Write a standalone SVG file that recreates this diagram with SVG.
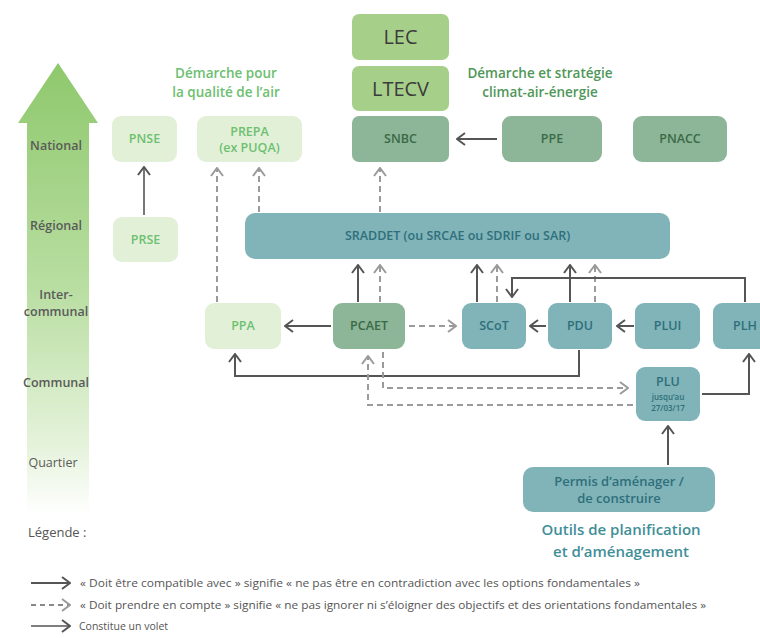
<svg xmlns="http://www.w3.org/2000/svg" width="760" height="638" viewBox="0 0 760 638">
<style>
  text { font-family: "Open Sans", "Noto Sans", "Liberation Sans", sans-serif; }
  .lg rect { fill: #e3f0d8; }
  .lg text { fill: #6cc070; font-size: 12.5px; font-weight: 600; text-anchor: middle; }
  .mg rect { fill: #a6d08a; }
  .mg text { fill: #3c3c3c; font-size: 20px; text-anchor: middle; }
  .gg rect { fill: #8db597; }
  .gg text { fill: #3a6a47; font-size: 12.5px; font-weight: 600; text-anchor: middle; }
  .tl rect { fill: #80b4b8; }
  .tl text { fill: #2f6f7b; font-size: 12.5px; font-weight: 600; text-anchor: middle; }
  .ax { fill: #5a5a5a; font-size: 12.5px; font-weight: 600; text-anchor: middle; }
  .hd { font-size: 13.5px; font-weight: 600; text-anchor: middle; }
  .solid { fill: none; stroke: #555; stroke-width: 2; marker-end: url(#as); }
  .dash { fill: none; stroke: #9a9a9a; stroke-width: 2; stroke-dasharray: 6 4; marker-end: url(#ad); }
  .leg { fill: #555; font-size: 10px; }
</style>
<defs>
  <linearGradient id="axg" x1="0" y1="0" x2="0" y2="1">
    <stop offset="0" stop-color="#8ec86c"/>
    <stop offset="0.5" stop-color="#b9dea2"/>
    <stop offset="0.85" stop-color="#e6f3dc"/>
    <stop offset="1" stop-color="#ffffff"/>
  </linearGradient>
  <marker id="as" viewBox="0 0 10 14" refX="9" refY="7" markerWidth="10" markerHeight="14" markerUnits="userSpaceOnUse" orient="auto">
    <path d="M1,1 L9,7 L1,13" fill="none" stroke="#555" stroke-width="2"/>
  </marker>
  <marker id="ad" viewBox="0 0 10 14" refX="9" refY="7" markerWidth="10" markerHeight="14" markerUnits="userSpaceOnUse" orient="auto">
    <path d="M1,1 L9,7 L1,13" fill="none" stroke="#9a9a9a" stroke-width="2"/>
  </marker>
</defs>
<rect width="760" height="638" fill="#ffffff"/>

<!-- axis -->
<g id="axis">
  <path d="M58,63 L98,123 L89,123 L89,515 L27,515 L27,123 L18,123 Z" fill="url(#axg)"/>
  <text class="ax" x="56" y="150">National</text>
  <text class="ax" x="56" y="230">Régional</text>
  <text class="ax" x="56" y="299">Inter-</text>
  <text class="ax" x="56" y="316">communal</text>
  <text class="ax" x="56" y="387">Communal</text>
  <text class="ax" x="53" y="467" style="font-weight:500">Quartier</text>
</g>

<!-- headings -->
<text class="hd" x="226" y="78" fill="#6cc070">Démarche pour</text>
<text class="hd" x="226" y="97" fill="#6cc070">la qualité de l’air</text>
<text class="hd" x="540" y="78" fill="#4f9658">Démarche et stratégie</text>
<text class="hd" x="540" y="97" fill="#4f9658">climat-air-énergie</text>

<!-- nodes -->
<g id="PNSE" class="lg"><rect x="112" y="116" width="65" height="46" rx="9"/><text x="144.5" y="143">PNSE</text></g>
<g id="PREPA" class="lg"><rect x="197" y="116" width="105" height="46" rx="9"/><text x="249.5" y="136">PREPA</text><text x="249.5" y="152">(ex PUQA)</text></g>
<g id="LEC" class="mg"><rect x="352" y="14" width="97" height="46" rx="7"/><text x="400.5" y="44">LEC</text></g>
<g id="LTECV" class="mg"><rect x="352" y="66" width="97" height="45" rx="7"/><text x="400.5" y="96">LTECV</text></g>
<g id="SNBC" class="gg"><rect x="352" y="116" width="97" height="46" rx="7"/><text x="400.5" y="143">SNBC</text></g>
<g id="PPE" class="gg"><rect x="502" y="116" width="100" height="46" rx="9"/><text x="552" y="143">PPE</text></g>
<g id="PNACC" class="gg"><rect x="633" y="116" width="94" height="46" rx="9"/><text x="680" y="143">PNACC</text></g>
<g id="PRSE" class="lg"><rect x="113" y="217" width="65" height="45" rx="9"/><text x="145.5" y="244">PRSE</text></g>
<g id="SRADDET" class="tl"><rect x="245" y="213" width="425" height="46" rx="10"/><text x="457.5" y="240">SRADDET (ou SRCAE ou SDRIF ou SAR)</text></g>
<g id="PPA" class="lg"><rect x="205" y="303" width="76" height="46" rx="9"/><text x="243" y="330">PPA</text></g>
<g id="PCAET" class="gg"><rect x="333" y="303" width="72" height="46" rx="9"/><text x="369" y="330">PCAET</text></g>
<g id="SCoT" class="tl"><rect x="462" y="303" width="64" height="46" rx="9"/><text x="494" y="330">SCoT</text></g>
<g id="PDU" class="tl"><rect x="548" y="303" width="64" height="46" rx="9"/><text x="580" y="330">PDU</text></g>
<g id="PLUI" class="tl"><rect x="635" y="303" width="65" height="46" rx="9"/><text x="667.5" y="330">PLUI</text></g>
<g id="PLH" class="tl"><rect x="713" y="303" width="64" height="46" rx="9"/><text x="745" y="330">PLH</text></g>
<g id="PLU" class="tl"><rect x="636" y="367" width="64" height="54" rx="9"/><text x="668" y="386">PLU</text><text x="668" y="400" style="font-size:8px">jusqu’au</text><text x="668" y="411" style="font-size:8px">27/03/17</text></g>
<g id="Permis" class="tl"><rect x="523" y="467" width="192" height="45" rx="10"/><text x="619" y="486" style="font-size:13px">Permis d’aménager /</text><text x="619" y="503" style="font-size:13px">de construire</text></g>

<text class="hd" x="621" y="535" fill="#3f8e98" style="font-size:15px">Outils de planification</text>
<text class="hd" x="621" y="557" fill="#3f8e98" style="font-size:15px">et d’aménagement</text>

<!-- connectors -->
<g id="connectors">
  <path class="solid" d="M144,215 L144,167" style="stroke:#777"/>
  <path class="dash" d="M217,302 L217,168"/>
  <path class="dash" d="M259,212 L259,168"/>
  <path class="dash" d="M380,212 L380,168"/>
  <path class="solid" d="M497,139 L457,139"/>
  <path class="solid" d="M358,302 L358,265"/>
  <path class="dash" d="M380,302 L380,265"/>
  <path class="solid" d="M477,302 L477,265"/>
  <path class="dash" d="M497,302 L497,265"/>
  <path class="solid" d="M570,302 L570,265"/>
  <path class="dash" d="M595,302 L595,265"/>
  <path class="solid" d="M745,302 L745,278 L512,278 L512,297"/>
  <path class="solid" d="M331,326 L285,326"/>
  <path class="dash" d="M409,326 L456,326"/>
  <path class="solid" d="M546,326 L530,326"/>
  <path class="solid" d="M634,326 L617,326"/>
  <path class="solid" d="M579,350 L579,376 L235,376 L235,354"/>
  <path class="dash" d="M383,352 L383,388 L628,388"/>
  <path class="dash" d="M633,405 L368,405 L368,356"/>
  <path class="solid" d="M702,394 L749,394 L749,354"/>
  <path class="solid" d="M668,465 L668,426"/>
</g>

<!-- legend -->
<g id="legend">
  <text x="28" y="537" fill="#555" style="font-size:13px">Légende :</text>
  <path class="solid" d="M31,583 L70,583"/>
  <text class="leg" x="80" y="587" textLength="560" lengthAdjust="spacingAndGlyphs">« Doit être compatible avec » signifie « ne pas être en contradiction avec les options fondamentales »</text>
  <path class="dash" d="M31,605 L70,605" style="stroke:#888;stroke-dasharray:5 4"/>
  <text class="leg" x="80" y="609" textLength="626" lengthAdjust="spacingAndGlyphs">« Doit prendre en compte » signifie « ne pas ignorer ni s’éloigner des objectifs et des orientations fondamentales »</text>
  <path class="solid" d="M31,626 L70,626" style="stroke-width:1.5"/>
  <text class="leg" x="79" y="630" style="font-size:10.5px">Constitue un volet</text>
</g>
</svg>
